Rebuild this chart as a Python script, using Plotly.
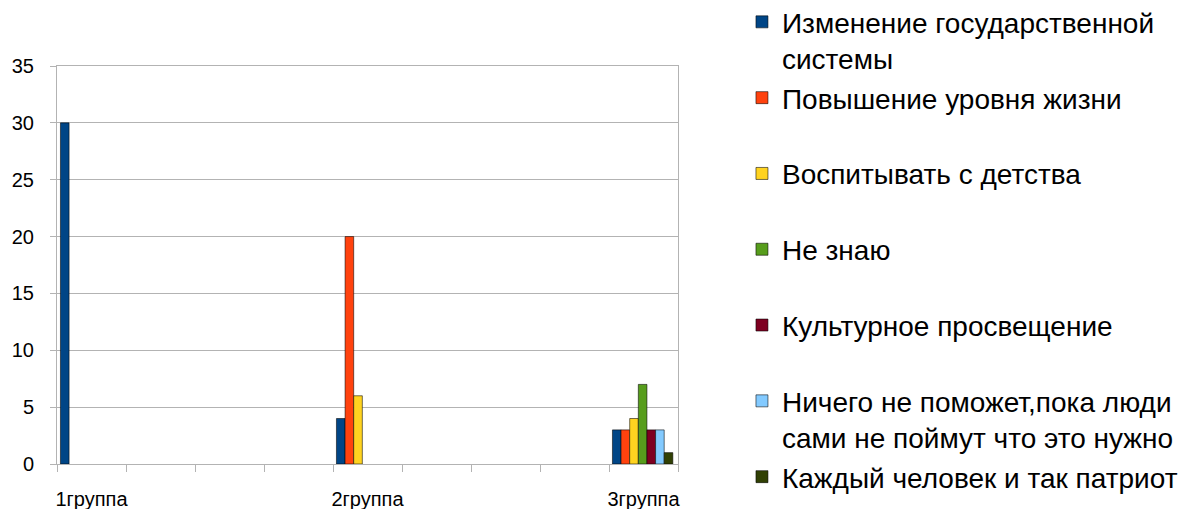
import plotly.graph_objects as go

# Categories (9 slots on the axis; only 3 are labelled)
categories = ["1группа", " ", "  ", "   ", "2группа", "    ", "     ", "      ", "3группа"]

series_names = [
    "Изменение государственной<br>системы",
    "Повышение уровня жизни",
    "Воспитывать с детства",
    "Не знаю",
    "Культурное просвещение",
    "Ничего не поможет,пока люди<br>сами не поймут что это нужно",
    "Каждый человек и так патриот",
]

s1 = [30, None, None, None, 4, None, None, None, 3]
s2 = [None, None, None, None, 20, None, None, None, 3]
s3 = [None, None, None, None, 6, None, None, None, 4]
s4 = [None, None, None, None, None, None, None, None, 7]
s5 = [None, None, None, None, None, None, None, None, 3]
s6 = [None, None, None, None, None, None, None, None, 3]
s7 = [None, None, None, None, None, None, None, None, 1]

series_values = [s1, s2, s3, s4, s5, s6, s7]
colors = ["#004586", "#ff420e", "#ffd320", "#579d1c", "#7e0021", "#83caff", "#314004"]

bar_w = 0.125
start = -0.5 + 0.05

fig = go.Figure()
n = len(series_names)
for i, (name, vals, col) in enumerate(zip(series_names, series_values, colors)):
    label = name if ("<br>" in name or i == n - 1) else name + "<br> "
    fig.add_trace(go.Bar(
        x=categories, y=vals, name=label, legendgroup="g%d" % i,
        marker=dict(color=col, line=dict(color="rgba(0,0,0,0.55)", width=1)),
        width=bar_w, offset=start + i * bar_w,
    ))

grid = "#b3b3b3"
font = "Liberation Sans, Arial, sans-serif"

fig.update_layout(
    width=1194, height=501,
    margin=dict(l=49, r=524, t=58, b=45, autoexpand=False),
    paper_bgcolor="white", plot_bgcolor="white",
    barmode="group",
    font=dict(family=font, color="black"),
    showlegend=True,
    legend=dict(
        x=1.103, y=1.173, xanchor="left", yanchor="top",
        font=dict(size=28, family=font, color="black"),
        valign="top", tracegroupgap=3, traceorder="normal",
        bgcolor="rgba(0,0,0,0)", maxheight=700,
    ),
    xaxis=dict(
        type="category", categoryorder="array", categoryarray=categories,
        tickson="boundaries", ticks="outside", ticklen=7, tickcolor=grid,
        showgrid=False, showline=True, linecolor=grid, mirror=True,
        tickfont=dict(size=20, family=font, color="black"), tickangle=0,
        ticklabelstandoff=17, range=[-0.5, 8.5], fixedrange=True, automargin=False,
    ),
    yaxis=dict(
        range=[0, 35], dtick=5, tick0=0,
        ticks="outside", ticklen=6, tickcolor=grid,
        showgrid=True, gridcolor=grid, gridwidth=1,
        showline=True, linecolor=grid, mirror=True, zeroline=False,
        tickfont=dict(size=20, family=font, color="black"),
        ticklabelstandoff=12, automargin=False,
    ),
)

fig.write_html("out.html")
